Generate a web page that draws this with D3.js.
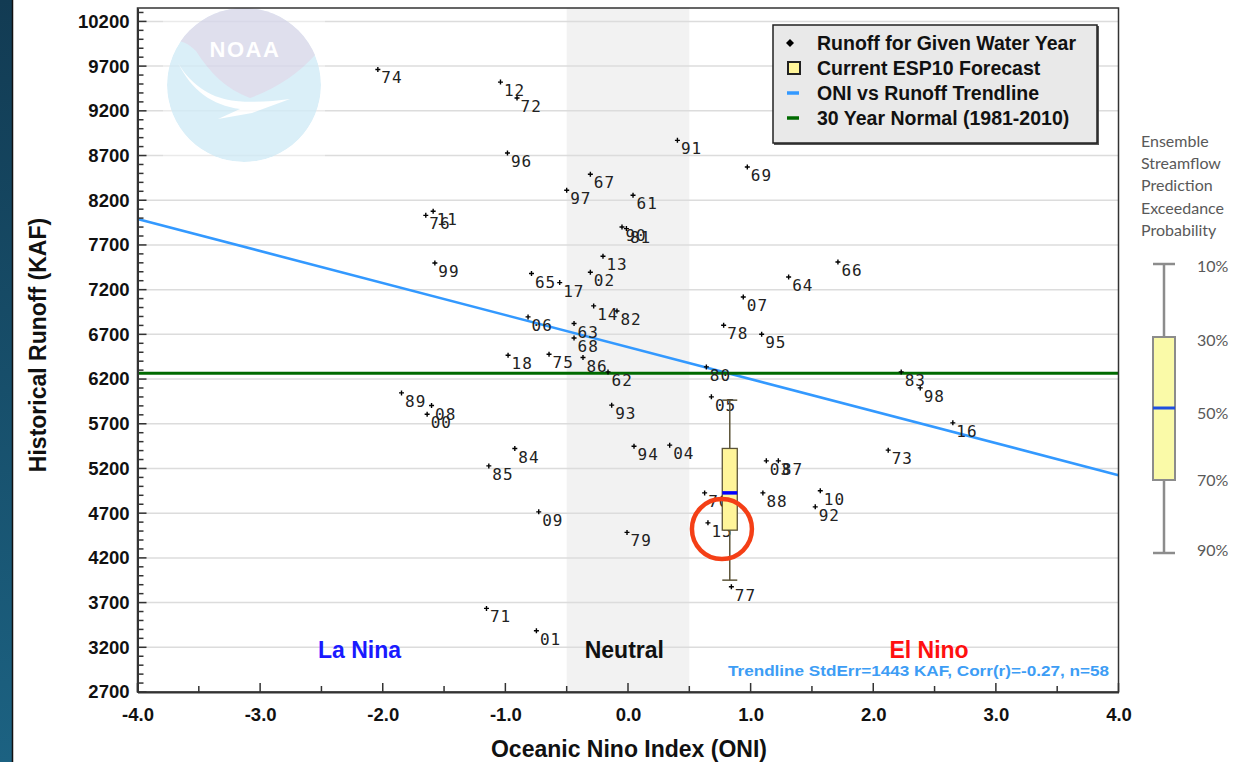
<!DOCTYPE html>
<html><head><meta charset="utf-8">
<script src="https://cdn.jsdelivr.net/npm/d3@7"></script>
<style>body{margin:0;background:#fff;} svg{display:block;}</style>
</head><body>
<svg id="c" width="1234" height="762"></svg>
<script>
// ---------- data ----------
const years  = ["74","12","72","96","91","69","67","97","61","76","11","90","81","99","13","02","65","17","66","64",
                "07","14","82","06","63","68","78","95","18","75","86","62","80","89","08","00","93","05","83","98",
                "16","73","03","87","70","88","10","92","15","84","94","04","85","09","79","77","71","01"];
const oni    = [-2.04,-1.04,-0.905,-0.983,0.403,0.973,-0.307,-0.50,0.041,-1.649,-1.589,-0.049,-0.013,-1.575,-0.204,-0.307,-0.787,-0.557,1.712,1.31,
                0.94,-0.28,-0.09,-0.815,-0.44,-0.44,0.78,1.09,-0.978,-0.644,-0.367,-0.163,0.639,-1.847,-1.602,-1.638,-0.133,0.68,2.228,2.383,
                2.649,2.122,1.128,1.226,0.625,1.10,1.568,1.527,0.652,-0.923,0.049,0.34,-1.135,-0.728,-0.008,0.843,-1.154,-0.747];
const runoff = [9663,9521,9343,8728,8870,8571,8490,8311,8255,8031,8076,7901,7883,7498,7573,7394,7380,7279,7510,7342,
                7118,7018,6962,6895,6821,6660,6802,6701,6467,6478,6441,6280,6336,6045,5904,5807,5908,6001,6280,6101,
                5710,5405,5285,5285,4927,4927,4950,4771,4592,5423,5449,5461,5229,4715,4485,3877,3635,3385];

const xTickValues = [-4,-3,-2,-1,0,1,2,3,4];
const xTickLabels = ["-4.0","-3.0","-2.0","-1.0","0.0","1.0","2.0","3.0","4.0"];
const yTickValues = [2700,3200,3700,4200,4700,5200,5700,6200,6700,7200,7700,8200,8700,9200,9700,10200];
const trendX = [-4, 4];
const trendY = [7990, 5125];
const normal30 = 6265;
const neutralBand = [-0.5, 0.5];
const espOni = 0.83;
const espLevels = ["10%","30%","50%","70%","90%"];
const espValues = [5964, 5424, 4927, 4510, 3951];
const regionNames = ["La Nina","Neutral","El Nino"];
const regionOni = [-2.19, -0.03, 2.455];
const regionColors = ["#1a1aff","#111111","#ff1010"];
const legendLabels = ["Runoff for Given Water Year","Current ESP10 Forecast","ONI vs Runoff Trendline","30 Year Normal (1981-2010)"];
const statsText = "Trendline StdErr=1443 KAF, Corr(r)=-0.27, n=58";
const panelTitle = ["Ensemble","Streamflow","Prediction","Exceedance","Probability"];
const highlight = {oni: 0.766, runoff: 4522};

// ---------- layout ----------
const svg = d3.select("#c");
const L = 137.5, R = 1118.5, T = 8, B = 692;
const x = d3.scaleLinear().domain([-4, 4]).range([L, R]);
const y = d3.scaleLinear().domain([2700, 10350]).range([B, T]);
const sans = "'Liberation Sans', Arial, sans-serif";

// left dark strip
const defs = svg.append("defs");
const grad = defs.append("linearGradient").attr("id","strip").attr("x1",0).attr("y1",0).attr("x2",0).attr("y2",1);
grad.append("stop").attr("offset","0").attr("stop-color","#123b53");
grad.append("stop").attr("offset","1").attr("stop-color","#1c6282");
svg.append("rect").attr("x",0).attr("y",0).attr("width",12).attr("height",762).attr("fill","url(#strip)");
svg.append("line").attr("x1",12.5).attr("x2",12.5).attr("y1",0).attr("y2",762).attr("stroke","#111").attr("stroke-width",1.5);

// neutral band
svg.append("rect").attr("x",x(neutralBand[0])).attr("y",T).attr("width",x(neutralBand[1])-x(neutralBand[0])).attr("height",B-T).attr("fill","#f2f2f2");

// gridlines
svg.append("g").selectAll("line").data(yTickValues).join("line")
  .attr("x1",L).attr("x2",R).attr("y1",d=>y(d)).attr("y2",d=>y(d))
  .attr("stroke","#dcdcdc").attr("stroke-width",1.5);

// NOAA watermark (semi-transparent over gridlines)
const cp = defs.append("clipPath").attr("id","logoClip");
cp.append("circle").attr("cx",0).attr("cy",0).attr("r",77);
const logo = svg.append("g").attr("transform","translate(244,85)").attr("opacity",0.82);
logo.append("rect").attr("x",-81).attr("y",-77).attr("width",162).attr("height",157).attr("fill","#fff").attr("opacity",0.5);
const lg = logo.append("g").attr("clip-path","url(#logoClip)");
lg.append("circle").attr("r",77).attr("fill","#d3ecf7");
lg.append("path").attr("d","M-80,-90 L80,-90 L80,-32 L71,-30 C 55,-12 32,4 6,13 C -18,4 -34,-12 -48,-34 C -56,-42 -62,-45 -80,-46 Z").attr("fill","#d8d8ea");
lg.append("path").attr("d","M-66,-22 C -52,2 -30,14 -8,16 C 12,18 30,16 46,14 L 8,28 L -26,34 L -4,24 C -32,20 -52,6 -66,-22 Z").attr("fill","#ffffff");
logo.append("text").attr("x",1).attr("y",-28).attr("text-anchor","middle").attr("font-family",sans).attr("font-weight","bold")
  .attr("font-size",22).attr("fill","#ffffff").attr("letter-spacing",1.5).text("NOAA");

// trendline & normal
svg.append("line").attr("x1",x(trendX[0])).attr("y1",y(trendY[0])).attr("x2",x(trendX[1])).attr("y2",y(trendY[1]))
  .attr("stroke","#3399ff").attr("stroke-width",2.6);
svg.append("line").attr("x1",L).attr("x2",R).attr("y1",y(normal30)).attr("y2",y(normal30))
  .attr("stroke","#006a00").attr("stroke-width",3);

// points
const pts = svg.append("g");
const pd = years.map((yr,i)=>({yr, o:oni[i], r:runoff[i]}));
pts.selectAll("path").data(pd).join("path")
  .attr("transform",d=>`translate(${x(d.o)},${y(d.r)})`)
  .attr("d","M-2.5,0H2.5M0,-2.5V2.5").attr("stroke","#000").attr("stroke-width",1.4);
pts.selectAll("text").data(pd).join("text")
  .attr("x",d=>x(d.o)+3.5).attr("y",d=>y(d.r)+14)
  .attr("font-family","'DejaVu Sans Mono', monospace").attr("font-size",16).attr("letter-spacing",1)
  .attr("fill","#222").text(d=>d.yr);

// ESP box plot
const bx = x(espOni), bw = 15;
const esp = svg.append("g");
esp.append("line").attr("x1",bx).attr("x2",bx).attr("y1",y(espValues[0])).attr("y2",y(espValues[4])).attr("stroke","#5c5438").attr("stroke-width",1.5);
[0,4].forEach(i=>esp.append("line").attr("x1",bx-bw/2).attr("x2",bx+bw/2).attr("y1",y(espValues[i])).attr("y2",y(espValues[i])).attr("stroke","#5c5438").attr("stroke-width",1.5));
esp.append("rect").attr("x",bx-bw/2).attr("y",y(espValues[1])).attr("width",bw).attr("height",y(espValues[3])-y(espValues[1]))
  .attr("fill","#fff59a").attr("stroke","#5c5438").attr("stroke-width",1.3);
esp.append("line").attr("x1",bx-bw/2).attr("x2",bx+bw/2).attr("y1",y(espValues[2])).attr("y2",y(espValues[2])).attr("stroke","#0000ff").attr("stroke-width",3.5);

// highlight circle
svg.append("circle").attr("cx",x(highlight.oni)).attr("cy",y(highlight.runoff)).attr("r",30)
  .attr("fill","none").attr("stroke","#f43f16").attr("stroke-width",4.5);

// region labels
svg.append("g").selectAll("text").data(regionNames).join("text")
  .attr("x",(d,i)=>x(regionOni[i])).attr("y",y(3170)+8).attr("text-anchor","middle")
  .attr("font-family",sans).attr("font-weight","bold").attr("font-size",23)
  .attr("fill",(d,i)=>regionColors[i]).text(d=>d);

svg.append("text").attr("x",1109).attr("y",676).attr("text-anchor","end")
  .attr("font-family",sans).attr("font-weight","bold").attr("font-size",15).attr("fill","#3d9df5")
  .attr("textLength",381).attr("lengthAdjust","spacingAndGlyphs").text(statsText);

// frame & axes
svg.append("rect").attr("x",L).attr("y",T).attr("width",R-L).attr("height",B-T).attr("fill","none").attr("stroke","#333").attr("stroke-width",1.5);
const yAxis = d3.axisLeft(y).tickValues(yTickValues).tickFormat(d3.format("d")).tickSize(0).tickPadding(8);
const ya = svg.append("g").attr("transform",`translate(${L},0)`).call(yAxis);
ya.select(".domain").attr("stroke","#333").attr("stroke-width",2);
ya.selectAll("text").attr("font-family",sans).attr("font-weight","bold").attr("font-size",18.5).attr("fill","#111");
const yMinor = d3.range(2700, 10301, 100);
svg.append("g").selectAll("line").data(yMinor).join("line")
  .attr("x1",L).attr("x2",d=>L + ((d-2700)%500===0 ? 9 : 6)).attr("y1",d=>y(d)).attr("y2",d=>y(d))
  .attr("stroke","#333").attr("stroke-width",1.5);

const xAxis = d3.axisBottom(x).tickValues(xTickValues).tickFormat((d,i)=>xTickLabels[i]).tickSize(0).tickPadding(16);
const xa = svg.append("g").attr("transform",`translate(0,${B})`).call(xAxis);
xa.select(".domain").attr("stroke","#333").attr("stroke-width",2);
xa.selectAll("text").attr("font-family",sans).attr("font-weight","bold").attr("font-size",18.5).attr("fill","#111");
const xMinor = d3.range(-4, 4.01, 0.5);
svg.append("g").selectAll("line").data(xMinor).join("line")
  .attr("x1",d=>x(d)).attr("x2",d=>x(d)).attr("y1",B).attr("y2",d=>B - (Math.abs(d%1)<1e-9 ? 9 : 6))
  .attr("stroke","#333").attr("stroke-width",1.5);

svg.append("text").attr("x",629).attr("y",757).attr("text-anchor","middle")
  .attr("font-family",sans).attr("font-weight","bold").attr("font-size",23).attr("fill","#111").text("Oceanic Nino Index (ONI)");
svg.append("text").attr("transform","translate(46,345) rotate(-90)").attr("text-anchor","middle")
  .attr("font-family",sans).attr("font-weight","bold").attr("font-size",23).attr("fill","#111").text("Historical Runoff (KAF)");

// legend
const lgd = svg.append("g");
lgd.append("rect").attr("x",774).attr("y",26).attr("width",325).attr("height",119).attr("fill","#555");
lgd.append("rect").attr("x",773).attr("y",25).attr("width",324).attr("height",118).attr("fill","#e9e9e9").attr("stroke","#222").attr("stroke-width",1.5);
const rowY = [43, 68, 93, 118];
lgd.selectAll("text").data(legendLabels).join("text")
  .attr("x",817).attr("y",(d,i)=>rowY[i]+7)
  .attr("font-family",sans).attr("font-weight","bold").attr("font-size",19.5).attr("fill","#111").text(d=>d);
lgd.append("path").attr("transform",`translate(790,${rowY[0]})`).attr("d","M0,-4L4,0L0,4L-4,0Z").attr("fill","#000");
lgd.append("rect").attr("x",788).attr("y",rowY[1]-6).attr("width",12).attr("height",12).attr("fill","#fff59a").attr("stroke","#222").attr("stroke-width",2);
lgd.append("line").attr("x1",787).attr("x2",799).attr("y1",rowY[2]).attr("y2",rowY[2]).attr("stroke","#3399ff").attr("stroke-width",3.5);
lgd.append("line").attr("x1",787).attr("x2",799).attr("y1",rowY[3]).attr("y2",rowY[3]).attr("stroke","#006a00").attr("stroke-width",3.5);

// right panel: ESP exceedance key
const pnl = svg.append("g");
const pfont = "Lato, 'Open Sans', sans-serif";
pnl.selectAll("text.t").data(panelTitle).join("text").attr("class","t")
  .attr("x",1141).attr("y",(d,i)=>147+i*22.2)
  .attr("font-family",pfont).attr("font-size",16).attr("fill","#595959").text(d=>d);
const keyPos = [264, 337, 408, 480, 553];
const kx = 1164, kw = 22;
pnl.append("line").attr("x1",kx).attr("x2",kx).attr("y1",keyPos[0]).attr("y2",keyPos[4]).attr("stroke","#8c8c8c").attr("stroke-width",2.5);
[0,4].forEach(i=>pnl.append("line").attr("x1",kx-kw/2).attr("x2",kx+kw/2).attr("y1",keyPos[i]).attr("y2",keyPos[i]).attr("stroke","#8c8c8c").attr("stroke-width",2.5));
pnl.append("rect").attr("x",kx-kw/2).attr("y",keyPos[1]).attr("width",kw).attr("height",keyPos[3]-keyPos[1])
  .attr("fill","#fafaa8").attr("stroke","#8c8c8c").attr("stroke-width",2);
pnl.append("line").attr("x1",kx-kw/2).attr("x2",kx+kw/2).attr("y1",keyPos[2]).attr("y2",keyPos[2]).attr("stroke","#1f4fe0").attr("stroke-width",3);
pnl.selectAll("text.p").data(espLevels).join("text").attr("class","p")
  .attr("x",1197).attr("y",(d,i)=>[267,341,414,481,551][i]+5)
  .attr("font-family",pfont).attr("font-size",16).attr("fill","#595959").text(d=>d);
</script>
</body></html>
